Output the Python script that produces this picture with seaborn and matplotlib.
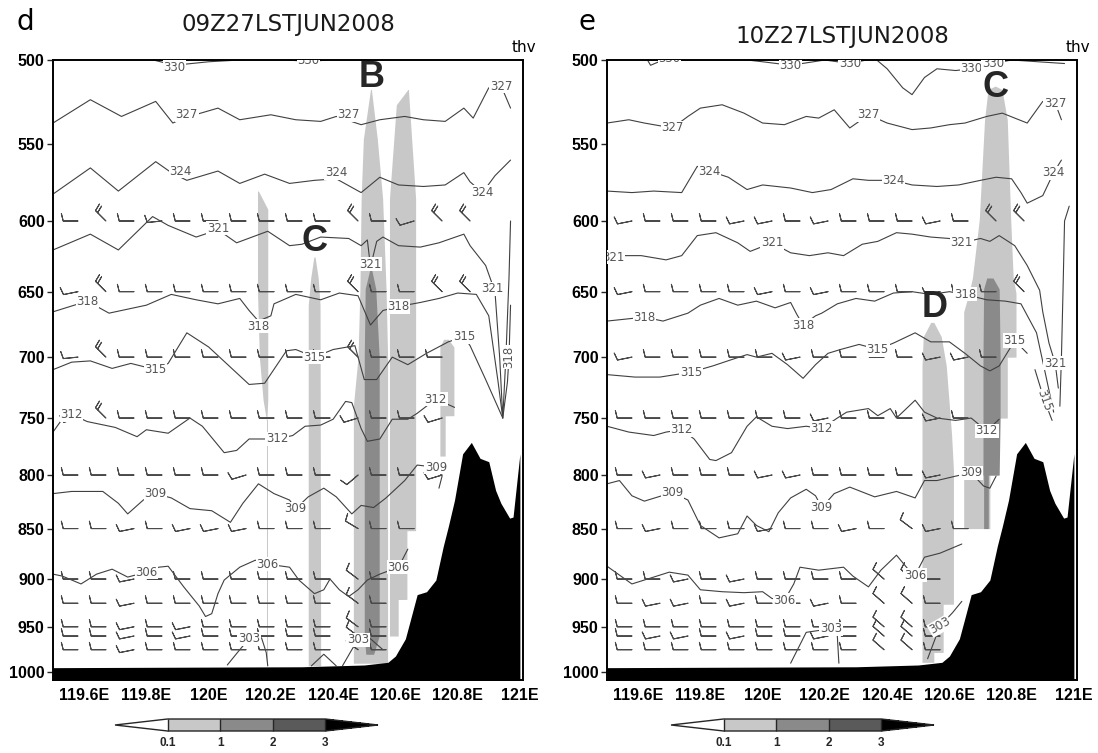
import numpy as np
import pandas as pd
import matplotlib
matplotlib.use("Agg")
import matplotlib.pyplot as plt
import matplotlib as mpl
import seaborn as sns

sns.set_theme(style="white")
plt.rcParams['font.family'] = ['DejaVu Sans']

N = np.nan
# ---------------- axes / scale data ----------------
LON_TICKS = [119.6, 119.8, 120.0, 120.2, 120.4, 120.6, 120.8, 121.0]
LON_LABELS = ["119.6E", "119.8E", "120E", "120.2E", "120.4E", "120.6E", "120.8E", "121E"]
P_TICKS = [500, 550, 600, 650, 700, 750, 800, 850, 900, 950, 1000]
CB_LEVELS = [0.1, 1, 2, 3]
CB_COLORS = ['#c8c8c8', '#8a8a8a', '#5a5a5a']
TITLES = ["09Z27LSTJUN2008", "10Z27LSTJUN2008"]
PANEL_TAGS = ["d", "e"]

# ---------------- terrain (surface pressure, hPa) ----------------
TER_LON = [119.50, 120.30, 120.50, 120.576, 120.60, 120.632, 120.648, 120.665, 120.67, 120.70,
           120.73, 120.754, 120.77, 120.79, 120.816, 120.844, 120.872, 120.90, 120.922, 120.939,
           120.967, 120.978, 121.0]
TER_P = [995, 994, 992, 989, 982, 963, 943, 922, 916, 913,
         901, 867, 848, 823, 781, 771, 785, 788, 814, 826,
         840, 839, 781]

# ---------------- theta-v contour traces, panel d ----------------
D_330 = [[(119.50, 498), (119.80, 499), (119.89, 503), (120.00, 501), (120.20, 499), (120.32, 501),
          (120.50, 498), (120.80, 497), (121.0, 497)]]
D_327 = [[(119.50, 537), (119.62, 523), (119.72, 533), (119.83, 524), (119.885, 537), (119.92, 534),
          (120.03, 528), (120.10, 535), (120.20, 532), (120.28, 535), (120.36, 536), (120.41, 533),
          (120.49, 538), (120.55, 535), (120.63, 533), (120.69, 535), (120.76, 536), (120.82, 528),
          (120.85, 534), (120.90, 516), (120.94, 515), (120.97, 528)]]
D_324 = [[(119.50, 582), (119.62, 565), (119.71, 580), (119.83, 561), (119.88, 568), (119.93, 573),
          (120.03, 567), (120.10, 575), (120.18, 569), (120.26, 575), (120.34, 573), (120.41, 572),
          (120.49, 581), (120.55, 571), (120.61, 576), (120.69, 577), (120.76, 576), (120.82, 568),
          (120.84, 574), (120.88, 581), (120.92, 570), (120.97, 560)]]
D_321 = [[(119.50, 620), (119.62, 609), (119.71, 620), (119.82, 597), (119.87, 603), (119.96, 611),
          (120.03, 606), (120.09, 615), (120.19, 607), (120.26, 617), (120.30, 616), (120.36, 611),
          (120.45, 612), (120.49, 617), (120.51, 613), (120.52, 632), (120.54, 614), (120.56, 611),
          (120.61, 617), (120.68, 618), (120.74, 615), (120.82, 609), (120.84, 617), (120.89, 631),
          (120.92, 650), (120.935, 700), (120.945, 750), (120.955, 700), (120.965, 640), (120.97, 600)]]
D_318 = [[(119.50, 665), (119.61, 657), (119.68, 666), (119.80, 660), (119.88, 652), (119.96, 656),
          (120.03, 659), (120.10, 655), (120.13, 664), (120.16, 672), (120.20, 668), (120.21, 659),
          (120.28, 652), (120.36, 656), (120.42, 651), (120.48, 653), (120.52, 675), (120.56, 664),
          (120.61, 661), (120.68, 658), (120.74, 655), (120.80, 651), (120.86, 652), (120.90, 668),
          (120.93, 720), (120.945, 750), (120.96, 720), (120.965, 700), (120.97, 660)]]
D_315 = [[(119.50, 710), (119.56, 704), (119.62, 703), (119.69, 709), (119.75, 705), (119.83, 710),
          (119.87, 705), (119.93, 681), (120.00, 692), (120.07, 708), (120.13, 722), (120.18, 721),
          (120.25, 695), (120.28, 694), (120.34, 700), (120.40, 694), (120.47, 691), (120.50, 718),
          (120.54, 718), (120.59, 700), (120.64, 706), (120.70, 697), (120.77, 688), (120.82, 684),
          (120.84, 691), (120.89, 718), (120.945, 750)]]
D_312 = [[(119.50, 762), (119.54, 747), (119.56, 747), (119.61, 753), (119.70, 758), (119.77, 766),
          (119.80, 760), (119.87, 763), (119.94, 750), (119.98, 757), (120.05, 780), (120.09, 778),
          (120.13, 768), (120.22, 768), (120.27, 765), (120.31, 757), (120.36, 756), (120.40, 751),
          (120.44, 736), (120.46, 737), (120.49, 759), (120.51, 770), (120.55, 768), (120.59, 751),
          (120.64, 751), (120.67, 746), (120.73, 734), (120.79, 741)]]
D_309 = [[(119.50, 817), (119.56, 815), (119.66, 815), (119.71, 826), (119.74, 836), (119.79, 823),
          (119.83, 817), (119.88, 821), (119.94, 831), (120.01, 833), (120.07, 844), (120.11, 826),
          (120.16, 808), (120.21, 817), (120.26, 823), (120.28, 831), (120.32, 820), (120.37, 812),
          (120.41, 820), (120.46, 836), (120.49, 828), (120.53, 830), (120.57, 821), (120.63, 805),
          (120.67, 791), (120.73, 793), (120.75, 801), (120.74, 812)]]
D_306 = [[(119.50, 895), (119.53, 897), (119.59, 905), (119.64, 895), (119.69, 890), (119.74, 898),
          (119.80, 893), (119.84, 888), (119.87, 887), (119.92, 908), (119.97, 928), (119.99, 939),
          (120.01, 936), (120.03, 915), (120.05, 901), (120.10, 888), (120.15, 881), (120.19, 885),
          (120.26, 888), (120.29, 901), (120.34, 915), (120.37, 911), (120.39, 900), (120.42, 911),
          (120.45, 918), (120.48, 911), (120.51, 901), (120.55, 895), (120.61, 888), (120.64, 870)]]
D_303 = [[(120.06, 992), (120.10, 975), (120.13, 963), (120.17, 962), (120.185, 978), (120.19, 993)],
         [(120.43, 993), (120.46, 975), (120.48, 964), (120.52, 963), (120.56, 975)],
         [(120.33, 993), (120.37, 980), (120.41, 993)]]

# ---------------- theta-v contour traces, panel e ----------------
E_330 = [[(119.50, 497), (119.62, 497), (119.64, 503), (119.68, 500), (119.80, 497), (120.00, 501),
          (120.09, 503), (120.20, 500), (120.28, 502), (120.36, 499), (120.40, 505), (120.45, 516),
          (120.48, 520), (120.52, 510), (120.56, 505), (120.62, 506), (120.67, 505), (120.74, 502),
          (120.80, 500), (120.97, 502)]]
E_327 = [[(119.50, 537), (119.57, 535), (119.62, 537), (119.71, 540), (119.76, 533), (119.80, 528),
          (119.87, 526), (119.94, 531), (120.00, 537), (120.07, 538), (120.14, 533), (120.18, 534),
          (120.23, 529), (120.28, 540), (120.34, 532), (120.40, 537), (120.48, 541), (120.54, 540),
          (120.60, 538), (120.65, 537), (120.72, 533), (120.77, 531), (120.81, 534), (120.85, 537),
          (120.90, 524), (120.94, 525), (120.96, 535)]]
E_324 = [[(119.50, 580), (119.58, 581), (119.65, 580), (119.74, 581), (119.79, 564), (119.83, 567),
          (119.89, 571), (119.95, 579), (120.00, 576), (120.09, 578), (120.16, 581), (120.22, 579),
          (120.29, 572), (120.34, 573), (120.42, 573), (120.48, 576), (120.56, 577), (120.63, 576),
          (120.70, 573), (120.75, 571), (120.80, 572), (120.83, 581), (120.85, 588), (120.90, 583),
          (120.935, 568), (120.96, 560)]]
E_321 = [[(119.50, 625), (119.55, 624), (119.61, 624), (119.69, 627), (119.74, 624), (119.79, 610),
          (119.85, 608), (119.92, 615), (119.96, 621), (120.03, 615), (120.09, 622), (120.15, 624),
          (120.21, 622), (120.26, 624), (120.32, 616), (120.37, 614), (120.43, 608), (120.48, 609),
          (120.54, 611), (120.60, 612), (120.64, 615), (120.70, 612), (120.73, 614), (120.76, 610),
          (120.81, 617), (120.85, 631), (120.89, 649), (120.90, 665), (120.92, 689), (120.94, 705),
          (120.95, 725)],
         [(120.955, 740), (120.96, 700), (120.965, 650), (120.97, 600), (120.985, 590)]]
E_318 = [[(119.50, 672), (119.62, 669), (119.68, 672), (119.76, 666), (119.80, 660), (119.86, 655),
          (119.92, 660), (119.98, 657), (120.04, 662), (120.09, 658), (120.11, 667), (120.13, 675),
          (120.17, 668), (120.19, 666), (120.24, 659), (120.30, 655), (120.36, 657), (120.42, 651),
          (120.48, 650), (120.54, 652), (120.60, 650), (120.65, 652), (120.72, 656), (120.78, 657),
          (120.83, 659), (120.88, 681), (120.91, 715), (120.935, 745)]]
E_315 = [[(119.50, 714), (119.59, 716), (119.67, 716), (119.77, 712), (119.84, 707), (119.90, 702),
          (119.95, 698), (119.98, 700), (120.03, 697), (120.08, 706), (120.13, 717), (120.17, 706),
          (120.21, 697), (120.25, 694), (120.31, 690), (120.37, 694), (120.42, 689), (120.49, 681),
          (120.54, 688), (120.60, 688), (120.65, 697), (120.70, 707), (120.73, 711), (120.76, 707),
          (120.81, 687), (120.85, 697)],
         [(120.875, 710), (120.905, 735), (120.93, 752)]]
E_312 = [[(119.50, 757), (119.57, 762), (119.65, 765), (119.69, 762), (119.74, 760), (119.78, 768),
          (119.83, 786), (119.85, 787), (119.90, 780), (119.95, 757), (119.98, 749), (120.03, 757),
          (120.08, 759), (120.14, 757), (120.19, 759), (120.24, 750), (120.27, 745), (120.34, 742),
          (120.37, 748), (120.41, 742), (120.43, 750), (120.49, 735), (120.52, 745), (120.56, 750),
          (120.62, 752), (120.67, 750), (120.72, 761), (120.76, 751)]]
E_309 = [[(119.50, 808), (119.54, 805), (119.58, 819), (119.62, 824), (119.71, 816), (119.76, 823),
          (119.80, 847), (119.86, 859), (119.92, 855), (119.95, 838), (119.98, 847), (120.02, 853),
          (120.05, 835), (120.09, 821), (120.14, 813), (120.17, 819), (120.19, 830), (120.23, 817),
          (120.28, 811), (120.36, 820), (120.43, 815), (120.49, 821), (120.52, 805), (120.56, 805),
          (120.62, 801), (120.67, 798), (120.71, 810), (120.73, 812), (120.75, 801)]]
E_306 = [[(119.50, 887), (119.58, 905), (119.62, 901), (119.70, 893), (119.76, 896), (119.80, 911),
          (119.87, 913), (119.94, 914), (120.00, 913), (120.03, 920), (120.07, 922), (120.10, 905),
          (120.12, 888), (120.18, 891), (120.26, 888), (120.29, 897), (120.34, 908), (120.38, 891),
          (120.43, 876), (120.47, 891), (120.49, 896), (120.52, 878), (120.57, 874), (120.64, 865)]]
E_303 = [[(120.09, 990), (120.14, 956), (120.22, 952), (120.24, 960), (120.245, 990)],
         [(120.53, 985), (120.57, 949), (120.61, 935), (120.64, 923)]]

D_LINES = {330: D_330, 327: D_327, 324: D_324, 321: D_321, 318: D_318, 315: D_315,
           312: D_312, 309: D_309, 306: D_306, 303: D_303}
E_LINES = {330: E_330, 327: E_327, 324: E_324, 321: E_321, 318: E_318, 315: E_315,
           312: E_312, 309: E_309, 306: E_306, 303: E_303}

# contour labels (lon, p, text, rotation)
D_LABELS = [(119.89, 504, '330', 0), (120.32, 500, '330', 0),
            (119.93, 532, '327', 0), (120.45, 532, '327', 0), (120.94, 515, '327', 0),
            (119.91, 567, '324', 0), (120.41, 568, '324', 0), (120.88, 581, '324', 0),
            (120.03, 605, '321', 0), (120.52, 630, '321', 0), (120.91, 648, '321', 0),
            (119.61, 657, '318', 0), (120.16, 676, '318', 0), (120.61, 661, '318', 0),
            (120.965, 700, '318', 90),
            (119.83, 710, '315', 0), (120.34, 700, '315', 0), (120.82, 684, '315', 0),
            (119.56, 747, '312', 0), (120.22, 768, '312', 0), (120.73, 734, '312', 0),
            (119.83, 817, '309', 0), (120.28, 831, '309', 0), (120.73, 793, '309', 0),
            (119.80, 893, '306', 0), (120.19, 885, '306', 0), (120.61, 888, '306', 0),
            (120.13, 963, '303', 0), (120.48, 964, '303', 0)]
E_LABELS = [(119.70, 499, '330', 0), (120.09, 503, '330', 0), (120.28, 502, '330', 0),
            (120.67, 505, '330', 0), (120.74, 502, '330', 0),
            (119.71, 540, '327', 0), (120.34, 532, '327', 0), (120.94, 525, '327', 0),
            (119.83, 567, '324', 0), (120.42, 573, '324', 0), (120.935, 568, '324', 0),
            (119.52, 625, '321', 0), (120.03, 615, '321', 0), (120.64, 615, '321', 0),
            (120.94, 705, '321', 0),
            (119.62, 669, '318', 0), (120.13, 675, '318', 0), (120.65, 652, '318', 0),
            (119.77, 712, '315', 0), (120.37, 694, '315', 0), (120.81, 687, '315', 0),
            (120.905, 735, '315', -70),
            (119.74, 760, '312', 0), (120.19, 759, '312', 0), (120.72, 761, '312', 0),
            (119.71, 816, '309', 0), (120.19, 830, '309', 0), (120.67, 798, '309', 0),
            (120.07, 922, '306', 0), (120.49, 896, '306', 0),
            (120.22, 952, '303', 0), (120.57, 949, '303', 30)]

# ---------------- shaded mixing-ratio regions: (level, p, left lon, right lon) ----------------
D_SHADE = [
    (0, [580, 592, 650, 700, 735, 752], [120.157, 120.157, 120.157, 120.163, 120.175, 120.186],
        [120.160, 120.190, 120.190, 120.190, 120.190, 120.187]),
    (0, [752, 993], [120.186, 120.186], [120.19, 120.19]),
    (0, [625, 640, 660, 993], [120.338, 120.328, 120.320, 120.320], [120.342, 120.352, 120.358, 120.360]),
    (0, [517, 547, 585, 648, 700, 740, 990], [120.520, 120.497, 120.490, 120.486, 120.480, 120.465, 120.465],
        [120.523, 120.542, 120.559, 120.570, 120.575, 120.575, 120.575]),
    (0, [517, 526, 585, 852, 852.1, 921, 921.1, 960], [120.640, 120.603, 120.581, 120.581, 120.581, 120.581, 120.581, 120.581],
        [120.642, 120.645, 120.665, 120.665, 120.637, 120.637, 120.609, 120.609]),
    (0, [686, 692, 748, 748.1, 783], [120.755, 120.743, 120.743, 120.743, 120.743],
        [120.770, 120.788, 120.788, 120.760, 120.760]),
    (1, [632, 648, 700, 960, 980], [120.520, 120.503, 120.500, 120.500, 120.505],
        [120.522, 120.537, 120.548, 120.548, 120.530]),
]
E_SHADE = [
    (0, [673, 684, 707, 764, 795, 926, 926.1, 978, 978.1, 989],
        [120.540, 120.516, 120.512, 120.512, 120.512, 120.512, 120.512, 120.512, 120.512, 120.512],
        [120.550, 120.574, 120.590, 120.607, 120.613, 120.613, 120.580, 120.580, 120.550, 120.550]),
    (0, [515, 517, 535, 599, 640, 651, 665, 700, 700.1, 750, 750.1, 800, 800.1, 850],
        [120.747, 120.724, 120.713, 120.696, 120.674, 120.663, 120.646, 120.646, 120.646, 120.646,
         120.646, 120.646, 120.646, 120.646],
        [120.748, 120.769, 120.786, 120.797, 120.805, 120.814, 120.814, 120.814, 120.786, 120.786,
         120.758, 120.758, 120.730, 120.730]),
    (1, [640, 648, 700, 750, 800, 800.1, 850], [120.720, 120.710, 120.708, 120.708, 120.708, 120.710, 120.710],
        [120.740, 120.760, 120.763, 120.763, 120.760, 120.725, 120.725]),
]

# ---------------- wind barbs ----------------
BARB_LON = [119.58, 119.67, 119.76, 119.85, 119.94, 120.03, 120.12, 120.21, 120.30, 120.39,
            120.48, 120.57, 120.66, 120.75, 120.84]
BARB_P = [600, 650, 700, 750, 800, 850, 900, 925, 950, 960, 975]
D_U = [[10, 14, 10, 10, 10, 10, 10, 10, 10, 10, 14, 10, 10, 14, 14],
       [10, 14, 10, 10, 10, 10, 10, 10, 10, 10, 14, 10, 10, 14, 14],
       [10, 14, 10, 10, 10, 10, 10, 10, 10, 10, 14, 10, 10, 10, N],
       [10, 14, 10, 10, 10, 10, 10, 10, 10, 10, 10, 10, 10, 10, N],
       [10, 10, 10, 10, 10, 10, 10, 10, 10, 10, 7, 10, 10, 10, N],
       [10, 10, 10, 10, 10, 10, 10, 10, 10, 10, 10, 10, 10, N, N],
       [10, 10, 10, 10, 10, 10, 10, 10, 10, 10, 8, 10, N, N, N],
       [10, 10, 10, 10, 10, 10, 10, 10, 10, 10, 8, 10, N, N, N],
       [10, 10, 10, 10, 10, 10, 10, 10, 10, 10, 8, 10, N, N, N],
       [10, 10, 10, 10, 10, 10, 10, 10, 10, 10, 8, 10, N, N, N],
       [10, 10, 10, 10, 10, 10, 10, 10, 10, 10, 8, 10, N, N, N]]
D_V = [[0, -14, 0, 1, 0, 0, 0, 0, 0, 0, -14, 0, 3, -14, -14],
       [2, -14, 0, 0, 0, 0, 0, 0, 0, 0, -14, 0, 0, -14, -14],
       [1, -14, 0, 0, 0, 0, 0, 0, 0, 0, -14, 0, 0, 0, N],
       [3, -14, 0, 0, 0, 0, 0, 0, 0, 0, 3, 0, 0, 3, N],
       [0, 0, 0, 0, 0, 0, 3, 0, 0, 0, 6, 0, 0, 3, N],
       [0, 0, 2, 0, 2, 2, 2, 0, 0, 0, -6, 0, 0, N, N],
       [0, 0, 2, 0, 0, 0, 0, 0, 0, 0, -6, 0, N, N, N],
       [0, 0, 2, 0, 0, 0, 0, 0, 0, 0, -6, 0, N, N, N],
       [0, 0, 2, 0, 2, 0, 0, 0, 0, 0, -6, 0, N, N, N],
       [0, 0, 2, 0, 2, 0, 0, 0, 0, 0, -6, 0, N, N, N],
       [0, 0, 2, 0, 0, 0, 0, 0, 0, 0, -6, 0, N, N, N]]
E_U = [[10, 10, 10, 10, 10, 10, 10, 10, 10, 10, 10, 10, 10, 14, 14],
       [10, 10, 10, 10, 10, 10, 10, 10, 10, 10, 10, 10, 10, 10, 14],
       [10, 10, 10, 10, 10, 10, 10, 10, 10, 10, 10, 10, 10, 10, N],
       [10, 10, 10, 10, 10, 10, 10, 10, 10, 10, 10, 10, 10, N, N],
       [10, 10, 10, 10, 10, 10, 10, 10, 10, 10, 10, 10, N, N, N],
       [10, 10, 10, 10, 10, 10, 10, 10, 10, 10, 8, 10, 10, N, N],
       [10, 10, 10, 10, 10, 10, 10, 10, 10, 8, 8, 10, N, N, N],
       [10, 10, 10, 10, 10, 10, 10, 10, 10, 8, 8, 10, N, N, N],
       [10, 10, 10, 10, 10, 10, 10, 10, 10, 8, 8, 10, N, N, N],
       [10, 10, 10, 10, 10, 10, 10, 10, 10, 8, 8, 10, N, N, N],
       [10, 10, 10, 10, 10, 10, 10, 10, 10, 8, 8, 10, N, N, N]]
E_V = [[2, 0, 0, 0, 2, 2, 0, 2, 0, 0, 0, 2, 0, -14, -14],
       [2, 0, 0, 0, 0, 2, 0, 2, 0, 0, 0, 2, 0, 0, -14],
       [2, 0, 0, 0, 0, 0, 2, 0, 0, 0, 0, 2, 2, 0, N],
       [0, 0, 0, 0, 0, 0, 0, 2, 0, 0, 0, 2, 0, N, N],
       [0, 2, 0, 0, 0, 2, 2, 0, 0, 0, 0, 2, N, N, N],
       [0, 2, 0, 0, 0, 2, 0, 0, 2, 0, -6, 2, 0, N, N],
       [0, 0, 2, 0, 2, 0, 0, 0, 0, -7, -7, 0, N, N, N],
       [0, 2, 2, 0, 2, 0, 0, 2, 0, -7, -7, 0, N, N, N],
       [0, 0, 0, 0, 0, 0, 0, 0, 0, -7, -7, 0, N, N, N],
       [0, 2, 2, 0, 2, 0, 0, 2, 0, -7, -7, 0, N, N, N],
       [0, 0, 0, 0, 0, 0, 0, 0, 0, -7, -7, 0, N, N, N]]

# big annotation letters (lon, p, letter)
D_LETTERS = [(120.525, 510, 'B'), (120.34, 614, 'C')]
E_LETTERS = [(120.747, 516, 'C'), (120.553, 662, 'D')]

# ---------------- figure ----------------
W, H = 1098, 753
fig = plt.figure(figsize=(W / 100, H / 100), dpi=100)
P_BOTTOM = 1009
LINE_COLOR = '#404040'
BOLD = dict(family='Liberation Sans', weight='bold')

panels = [
    dict(x0=53, lines=D_LINES, labels=D_LABELS, shade=D_SHADE, U=D_U, V=D_V, letters=D_LETTERS,
         title_y=25, cb_x0=115),
    dict(x0=607, lines=E_LINES, labels=E_LABELS, shade=E_SHADE, U=E_U, V=E_V, letters=E_LETTERS,
         title_y=37, cb_x0=671),
]

cmap = mpl.colors.ListedColormap(CB_COLORS)
cmap.set_under('white')
cmap.set_over('black')
norm = mpl.colors.BoundaryNorm(CB_LEVELS, cmap.N)

for i, pn in enumerate(panels):
    ax = fig.add_axes([pn['x0'] / W, 73 / H, 470 / W, 620 / H])
    ax.set_yscale('log')

    # shading
    for lev, pp, lft, rgt in pn['shade']:
        ax.fill_betweenx(pp, lft, rgt, color=CB_COLORS[lev], lw=0, zorder=1)

    # contour traces via seaborn
    rows = []
    seg = 0
    for lev, segs in pn['lines'].items():
        for s in segs:
            for k, (lo, pr) in enumerate(s):
                rows.append(dict(lon=lo, p=pr, seg=seg, order=k))
            seg += 1
    df = pd.DataFrame(rows)
    sns.lineplot(data=df, x='lon', y='p', units='seg', estimator=None, sort=False,
                 color=LINE_COLOR, linewidth=0.8, ax=ax, legend=False, zorder=2)

    # barbs
    X, Y = np.meshgrid(BARB_LON, BARB_P)
    U = np.array(pn['U'], dtype=float)
    V = np.array(pn['V'], dtype=float)
    ax.barbs(X, Y, U, V, length=4.6, linewidth=0.75, color='#4a4a4a', zorder=3,
             sizes=dict(emptybarb=0.0, spacing=0.2, height=0.5),
             barb_increments=dict(half=5, full=10, flag=50))

    # contour labels
    for lo, pr, txt, rot in pn['labels']:
        ax.text(lo, pr, txt, ha='center', va='center', fontsize=8.5, color='#555555', rotation=rot,
                zorder=4, clip_on=True,
                bbox=dict(facecolor='white', edgecolor='none', pad=0.4))

    # terrain
    ax.fill_between(TER_LON, TER_P, 1100, color='black', lw=0, zorder=5)

    for lo, pr, ch in pn['letters']:
        ax.text(lo, pr, ch, ha='center', va='center', fontsize=26, zorder=6, **BOLD)

    ax.set_xlim(119.5, 121.01)
    ax.set_ylim(P_BOTTOM, 500)
    ax.set_yticks(P_TICKS)
    ax.set_yticklabels([str(p) for p in P_TICKS])
    ax.yaxis.set_minor_locator(mpl.ticker.NullLocator())
    ax.set_xticks(LON_TICKS)
    ax.set_xticklabels(LON_LABELS)
    ax.set_xlabel('')
    ax.set_ylabel('')
    ax.tick_params(axis='y', length=4, width=1, direction='out', pad=2, left=True)
    ax.tick_params(axis='x', length=0, pad=6)
    for t in ax.get_yticklabels() + ax.get_xticklabels():
        t.set_fontfamily('Liberation Sans')
        t.set_fontweight('bold')
        t.set_fontsize(11.5)
        t.set_color('black')
    for sp in ax.spines.values():
        sp.set_color('black')
        sp.set_linewidth(1.4)
    ax.set_facecolor('white')

    cx = (pn['x0'] + 235) / W
    fig.text(cx, 1 - pn['title_y'] / H, TITLES[i], ha='center', va='center', fontsize=16.5,
             color='#1a1a1a')
    fig.text((pn['x0'] - 37 if i == 0 else pn['x0'] - 28) / W, 1 - 30 / H, PANEL_TAGS[i],
             ha='left', va='baseline', fontsize=20, color='black')
    fig.text((pn['x0'] + 471) / W, 1 - 47 / H, 'thv', ha='center', va='center', fontsize=11,
             color='black')

    # colorbar
    cax = fig.add_axes([pn['cb_x0'] / W, 22 / H, 263 / W, 12 / H])
    sm = mpl.cm.ScalarMappable(norm=norm, cmap=cmap)
    cb = fig.colorbar(sm, cax=cax, orientation='horizontal', extend='both', extendfrac='auto',
                      drawedges=True, ticks=CB_LEVELS)
    cb.set_ticklabels(['0.1', '1', '2', '3'])
    cb.outline.set_linewidth(1.0)
    cb.dividers.set_linewidth(1.0)
    cax.tick_params(length=0, pad=4)
    for t in cax.get_xticklabels():
        t.set_fontfamily('Liberation Sans')
        t.set_fontweight('bold')
        t.set_fontsize(8.5)

fig.savefig('out.png', dpi=100)
